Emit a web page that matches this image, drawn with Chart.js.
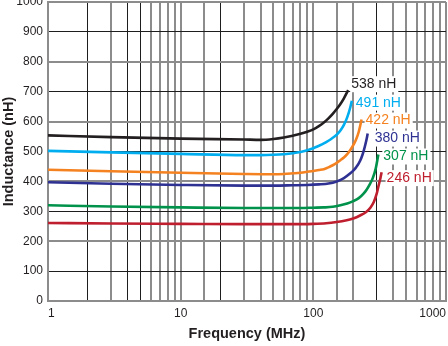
<!DOCTYPE html>
<html>
<head>
<meta charset="utf-8">
<script src="https://cdn.jsdelivr.net/npm/chart.js@4/dist/chart.umd.min.js"></script>
<style>
  html, body { margin: 0; padding: 0; background: #ffffff; }
  #wrap { width: 448px; height: 346px; }
</style>
</head>
<body>
<div id="wrap"><canvas id="c" width="448" height="346"></canvas></div>
<script>
// ---- data ----
const seriesLabels = ["538 nH", "491 nH", "422 nH", "380 nH", "307 nH", "246 nH"];

const freq538 = [1, 3, 10, 30, 40, 50, 60, 70, 80, 90, 100, 110, 120, 130, 140, 150, 160, 170, 183];
const ind538  = [554, 548, 543, 540, 539, 542, 547, 553, 559, 566, 574, 585, 597, 611, 626, 642, 659, 678, 705];

const freq491 = [1, 3, 10, 30, 40, 50, 60, 70, 80, 90, 100, 110, 120, 130, 140, 150, 160, 170, 180, 190, 195];
const ind491  = [502, 497, 492, 488, 488, 489, 491, 494, 498, 504, 511, 519, 527, 536, 546, 556, 570, 589, 614, 648, 670];

const freq422 = [1, 3, 10, 30, 50, 60, 70, 80, 90, 100, 110, 120, 130, 140, 150, 160, 170, 180, 190, 200, 210, 220, 231];
const ind422  = [439, 434, 429, 425, 424, 425, 427, 429, 432, 435, 438, 441, 447, 454, 462, 471, 480, 491, 505, 521, 540, 566, 607];

const freq380 = [1, 3, 10, 30, 50, 70, 90, 110, 130, 150, 170, 190, 200, 210, 220, 230, 240, 250, 257];
const ind380  = [397, 392, 388, 386, 386, 387, 388, 390, 393, 400, 411, 427, 436, 447, 460, 478, 503, 534, 560];

const freq307 = [1, 3, 10, 30, 60, 80, 100, 120, 140, 160, 180, 200, 220, 240, 252, 265, 280, 295, 309];
const ind307  = [320, 316, 313, 311, 311, 311, 312, 313, 315, 320, 326, 334, 344, 360, 372, 388, 410, 442, 490];

const freq246 = [1, 3, 10, 30, 60, 100, 125, 150, 175, 200, 225, 250, 270, 285, 300, 310, 320, 327];
const ind246  = [261, 259, 258, 257, 257, 258, 260, 264, 269, 276, 286, 298, 313, 330, 358, 385, 410, 431];

const xTickLabels = [1, 10, 100, 1000];
const yTicks = [0, 100, 200, 300, 400, 500, 600, 700, 800, 900, 1000];

// ---- styles ----
const colors = ["#231f20", "#00aeef", "#f58220", "#2e3192", "#00924a", "#be1e2d"];
const labelOffsets = [[3, -6], [4, 2], [4, 1], [7, 5], [5, 2], [5, 6]];
const darkX = [2, 4, 5, 20, 300];
const FONT = "'Liberation Sans', Arial, Helvetica, sans-serif";

const freqs = [freq538, freq491, freq422, freq380, freq307, freq246];
const vals  = [ind538, ind491, ind422, ind380, ind307, ind246];

const datasets = seriesLabels.map((lab, i) => ({
  label: lab,
  data: freqs[i].map((f, j) => ({ x: f, y: vals[i][j] })),
  borderColor: colors[i],
  backgroundColor: colors[i],
  borderWidth: 2.6,
  pointRadius: 0,
  fill: false,
  cubicInterpolationMode: 'monotone'
}));

const endLabels = {
  id: 'endLabels',
  afterDatasetsDraw(chart) {
    const ctx = chart.ctx;
    ctx.save();
    ctx.font = "14px " + FONT;
    ctx.textBaseline = 'middle';
    ctx.textAlign = 'left';
    chart.data.datasets.forEach((ds, i) => {
      const meta = chart.getDatasetMeta(i);
      const pt = meta.data[meta.data.length - 1];
      const x = pt.x + labelOffsets[i][0];
      const y = pt.y + labelOffsets[i][1];
      const w = ctx.measureText(ds.label).width;
      ctx.fillStyle = '#ffffff';
      ctx.fillRect(x - 1, y - 8, w + 3, 16);
      ctx.fillStyle = colors[i];
      ctx.fillText(ds.label, x, y);
    });
    ctx.restore();
  }
};

Chart.defaults.font.family = FONT;
Chart.defaults.color = '#231f20';

new Chart(document.getElementById('c'), {
  type: 'line',
  data: { datasets },
  options: {
    responsive: false,
    animation: false,
    events: [],
    layout: { padding: { top: 2, right: 2, bottom: 0, left: 0 } },
    plugins: { legend: { display: false }, tooltip: { enabled: false } },
    scales: {
      x: {
        type: 'logarithmic',
        min: 1,
        max: 1000,
        border: { color: '#8c8c8c', width: 2 },
        grid: {
          drawTicks: false,
          color: c => darkX.includes(c.tick && c.tick.value) ? '#1e1e1e' : '#8c8c8c',
          lineWidth: c => darkX.includes(c.tick && c.tick.value) ? 1 : 2
        },
        ticks: {
          autoSkip: false,
          maxRotation: 0,
          align: 'inner',
          padding: 5,
          font: { size: 12 },
          callback: v => xTickLabels.includes(v) ? String(v) : ''
        },
        title: {
          display: true,
          text: 'Frequency (MHz)',
          font: { size: 14.5, weight: 'bold' },
          padding: { top: 0, bottom: 3 }
        },
        afterFit: s => { s.height = 45; s.paddingLeft = 0; s.paddingRight = 0; }
      },
      y: {
        type: 'linear',
        min: 0,
        max: 1000,
        border: { color: '#8c8c8c', width: 2 },
        grid: {
          drawTicks: false,
          color: c => (c.tick && (c.tick.value / 100) % 2 === 1) ? '#1e1e1e' : '#8c8c8c',
          lineWidth: c => (c.tick && (c.tick.value / 100) % 2 === 1) ? 1 : 2
        },
        afterBuildTicks: s => { s.ticks = yTicks.map(v => ({ value: v })); },
        ticks: { padding: 5, font: { size: 12 }, callback: v => String(v) },
        title: {
          display: true,
          text: 'Inductance (nH)',
          font: { size: 14.5, weight: 'bold' },
          padding: { top: 0, bottom: 0 }
        },
        afterFit: s => { s.width = 48; s.paddingTop = 0; s.paddingBottom = 0; }
      }
    }
  },
  plugins: [endLabels]
});
</script>
</body>
</html>
